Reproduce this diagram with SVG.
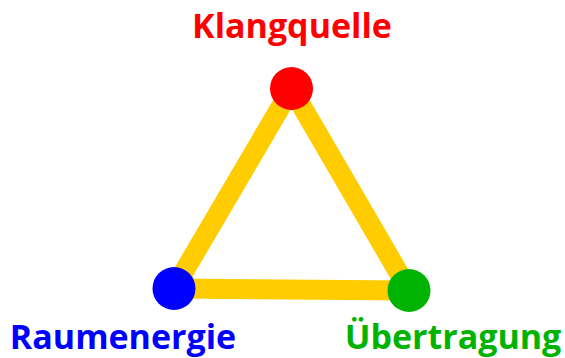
<svg xmlns="http://www.w3.org/2000/svg" width="565" height="358" viewBox="0 0 565 358">
<style>
.lbl{font-family:"Open Sans","Noto Sans","DejaVu Sans",sans-serif;font-weight:bold;font-size:34px;text-anchor:middle}
.edge{stroke:#FFCC00;stroke-width:20;fill:none}
</style>
<rect width="565" height="358" fill="#fff"/>
<g id="connectors">
<line class="edge" x1="291.5" y1="88.5" x2="174" y2="288.5"/>
<line class="edge" x1="291.5" y1="88.5" x2="409" y2="290.5"/>
<line class="edge" x1="174" y1="288.5" x2="409" y2="290.5"/>
</g>
<g id="klangquelle">
<circle cx="291.5" cy="88.5" r="21.5" fill="#FF0000"/>
<text class="lbl" x="292" y="38" fill="#FF0000">Klangquelle</text>
</g>
<g id="raumenergie">
<circle cx="174" cy="288.5" r="21.5" fill="#0000FF"/>
<text class="lbl" x="123" y="349" fill="#0000FF">Raumenergie</text>
</g>
<g id="uebertragung">
<circle cx="409" cy="290.5" r="21.5" fill="#00B300"/>
<text class="lbl" x="453" y="349" fill="#00B300">Übertragung</text>
</g>
</svg>
